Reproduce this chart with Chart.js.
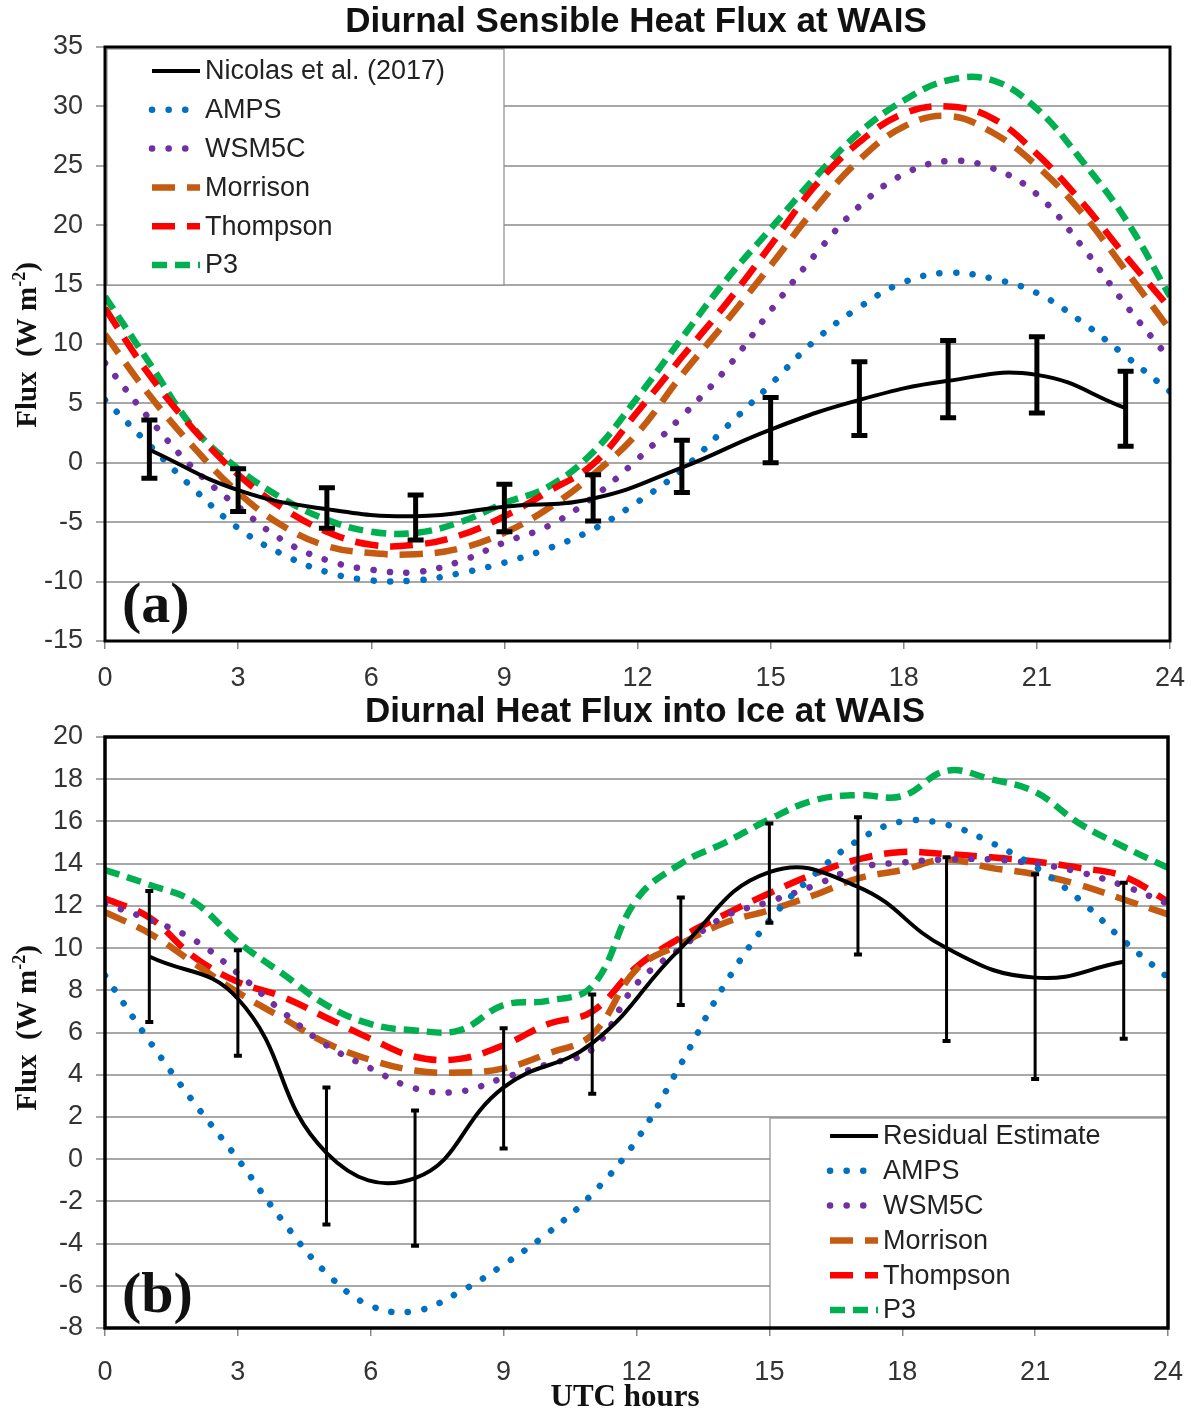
<!DOCTYPE html>
<html lang="en">
  <head>
    <meta charset="UTF-8" />
    <title>Diurnal Heat Flux at WAIS</title>
    <script src="https://cdn.jsdelivr.net/npm/chart.js@4.4.0/dist/chart.umd.min.js"></script>
    <style>
      body {
        margin: 0;
        background-color: #fff;
      }
      .panel {
        position: absolute;
        left: 0;
      }
      #panelA {
        top: 0;
      }
      #panelB {
        top: 690px;
      }
    </style>
  </head>
  <body>
    <canvas id="panelA" class="panel" width="1191" height="700"></canvas>
    <canvas id="panelB" class="panel" width="1191" height="726"></canvas>

    <script>
      // x values
      const hours = [0, 1, 2, 3, 4, 5, 6, 7, 8, 9, 10, 11, 12, 13, 14, 15, 16, 17, 18, 19, 20, 21, 22, 23, 24];
      const obsHours = [1, 3, 5, 7, 9, 11, 13, 15, 17, 19, 21, 23];
      const xTicks = [0, 3, 6, 9, 12, 15, 18, 21, 24];

      // (a) sensible heat flux
      const shfNicolas = [1.1, -2.3, -3.9, -4.5, -3.7, -3.0, -0.4, 2.8, 5.3, 6.9, 7.4, 4.6];
      const shfNicolasLow = [-1.3, -4.1, -5.5, -6.5, -5.8, -4.9, -2.5, 0.0, 2.3, 3.8, 4.2, 1.4];
      const shfNicolasHigh = [3.6, -0.5, -2.1, -2.7, -1.8, -1.0, 1.9, 5.5, 8.5, 10.3, 10.6, 7.7];
      const shfAMPS = [5.3, 1.5, -2.2, -5.5, -7.7, -9.2, -9.9, -9.9, -9.3, -8.4, -7.2, -5.6, -3.3, -0.6, 3.0, 6.6, 10.3, 13.1, 15.2, 16.0, 15.5, 14.3, 11.9, 9.0, 6.0];
      const shfWSM5C = [8.4, 3.7, -0.5, -3.7, -6.5, -8.2, -9.0, -9.2, -8.3, -6.7, -5.3, -2.9, 0.3, 3.9, 7.9, 12.8, 17.5, 21.6, 24.3, 25.4, 24.8, 22.6, 18.3, 13.3, 8.7];
      const shfMorrison = [10.8, 5.7, 1.3, -2.5, -5.3, -7.0, -7.6, -7.7, -7.2, -5.9, -3.8, -1.0, 2.5, 7.4, 11.9, 16.6, 21.4, 25.5, 28.3, 29.2, 27.8, 25.0, 21.1, 16.2, 11.2];
      const shfThompson = [13.0, 7.4, 2.8, -1.0, -3.8, -5.8, -6.9, -6.9, -6.1, -4.5, -2.4, -0.1, 4.3, 8.9, 13.4, 18.3, 23.3, 27.0, 29.4, 30.0, 29.0, 26.0, 22.0, 17.4, 13.0];
      const shfP3 = [14.0, 8.4, 2.9, -0.5, -3.0, -4.8, -5.8, -5.9, -5.0, -3.4, -2.0, 0.9, 5.5, 10.5, 15.4, 19.7, 24.0, 27.8, 30.5, 32.2, 32.2, 29.8, 25.5, 20.5, 14.0];

      // (b) heat flux into ice
      const iceResidual = [9.6, 7.6, 0.3, -0.9, 3.4, 5.5, 10.0, 13.6, 12.9, 10.0, 8.6, 9.35];
      const iceResidualLow = [6.5, 4.9, -3.1, -4.1, 0.5, 3.1, 7.3, 11.2, 9.7, 5.6, 3.8, 5.7];
      const iceResidualHigh = [12.7, 9.9, 3.4, 2.3, 6.2, 7.8, 12.4, 15.9, 16.2, 14.3, 13.5, 13.1];
      const iceAMPS = [8.7, 5.6, 2.7, 0.0, -2.9, -5.4, -6.95, -7.2, -6.3, -5.0, -3.5, -1.65, 0.9, 4.5, 8.3, 11.3, 13.45, 15.1, 16.0, 15.85, 15.0, 13.85, 12.3, 10.35, 8.6];
      const iceWSM5C = [12.1, 11.35, 10.4, 8.8, 7.0, 5.4, 4.3, 3.35, 3.2, 3.85, 4.5, 5.2, 8.3, 10.0, 11.5, 12.2, 12.95, 13.8, 14.05, 14.2, 14.2, 14.0, 13.6, 12.95, 12.1];
      const iceMorrison = [11.7, 10.7, 9.3, 7.9, 6.7, 5.5, 4.7, 4.2, 4.1, 4.3, 5.0, 5.9, 9.0, 10.2, 11.2, 11.8, 12.5, 13.3, 13.7, 14.2, 13.8, 13.5, 13.0, 12.3, 11.6];
      const iceThompson = [12.35, 11.45, 9.6, 8.4, 7.7, 6.7, 5.7, 4.85, 4.75, 5.4, 6.4, 7.0, 9.1, 10.5, 11.6, 12.6, 13.5, 14.2, 14.55, 14.45, 14.3, 14.1, 13.8, 13.4, 12.2];
      const iceP3 = [13.7, 13.0, 12.2, 10.3, 8.8, 7.3, 6.4, 6.1, 6.1, 7.3, 7.5, 8.2, 12.3, 14.0, 15.0, 16.1, 17.0, 17.25, 17.2, 18.4, 18.0, 17.4, 15.9, 14.8, 13.8];

      const SANS = "'Liberation Sans', Arial, sans-serif";
      const SERIF = "'Liberation Serif', 'Times New Roman', serif";

      function xy(xs, ys) {
        return ys.map((v, i) => ({ x: xs[i], y: v }));
      }

      // line styles shared by both panels
      function series(obsLabel, obs, amps, wsm, mor, tho, p3) {
        return [
          { label: obsLabel, data: xy(obsHours, obs), borderColor: "#000", borderWidth: 4, tension: 0.45 },
          { label: "AMPS", data: xy(hours, amps), borderColor: "#0070C0", borderWidth: 6.5, borderDash: [0.1, 16.5], borderCapStyle: "round", tension: 0.4 },
          { label: "WSM5C", data: xy(hours, wsm), borderColor: "#7030A0", borderWidth: 6.5, borderDash: [0.1, 16.5], borderCapStyle: "round", tension: 0.4 },
          { label: "Morrison", data: xy(hours, mor), borderColor: "#C55A11", borderWidth: 6.5, borderDash: [23, 12], tension: 0.4 },
          { label: "Thompson", data: xy(hours, tho), borderColor: "#FF0000", borderWidth: 6.5, borderDash: [23, 12], tension: 0.4 },
          { label: "P3", data: xy(hours, p3), borderColor: "#00B050", borderWidth: 6.5, borderDash: [15, 8], tension: 0.4 },
        ];
      }

      // error bars, frame, legend box and texts
      const decor = {
        id: "decor",
        afterDraw(chart, args, o) {
          const ctx = chart.ctx;
          const a = chart.chartArea;
          const xs = chart.scales.x;
          const ys = chart.scales.y;
          ctx.save();

          // error bars
          ctx.strokeStyle = "#000";
          ctx.setLineDash([]);
          obsHours.forEach((h, i) => {
            const px = xs.getPixelForValue(h);
            const y0 = ys.getPixelForValue(o.low[i]);
            const y1 = ys.getPixelForValue(o.high[i]);
            ctx.lineWidth = o.barWidth;
            ctx.beginPath();
            ctx.moveTo(px, y0);
            ctx.lineTo(px, y1);
            ctx.stroke();
            ctx.lineWidth = o.capThick;
            ctx.beginPath();
            ctx.moveTo(px - o.capHalf, y0);
            ctx.lineTo(px + o.capHalf, y0);
            ctx.moveTo(px - o.capHalf, y1);
            ctx.lineTo(px + o.capHalf, y1);
            ctx.stroke();
          });

          // legend box
          const L = o.legend;
          ctx.fillStyle = "#fff";
          ctx.fillRect(L.x, L.y, L.w, L.h);
          ctx.strokeStyle = "#8c8c8c";
          ctx.lineWidth = 1.2;
          ctx.strokeRect(L.x, L.y, L.w, L.h);
          chart.data.datasets.forEach((ds, i) => {
            const ry = L.row0 + i * L.rowGap;
            ctx.save();
            ctx.strokeStyle = ds.borderColor;
            ctx.lineWidth = ds.borderWidth;
            ctx.lineCap = ds.borderCapStyle || "butt";
            ctx.setLineDash(ds.borderDash || []);
            ctx.beginPath();
            ctx.moveTo(L.sx0, ry);
            ctx.lineTo(L.sx1, ry);
            ctx.stroke();
            ctx.restore();
            ctx.fillStyle = "#222";
            ctx.font = "27px " + SANS;
            ctx.textAlign = "left";
            ctx.textBaseline = "middle";
            ctx.fillText(ds.label, L.tx, ry + 1);
          });

          // frame
          ctx.strokeStyle = "#000";
          ctx.lineWidth = o.frame;
          ctx.strokeRect(a.left, a.top, a.right - a.left, a.bottom - a.top);

          // title
          ctx.fillStyle = "#111";
          ctx.font = "bold 35px " + SANS;
          ctx.textAlign = "center";
          ctx.textBaseline = "middle";
          ctx.fillText(o.title, o.titleX, 22);

          // panel label
          ctx.font = "bold 58px " + SERIF;
          ctx.textAlign = "left";
          ctx.textBaseline = "alphabetic";
          ctx.fillText(o.panel, 122, o.panelY);

          // y axis title with superscript
          ctx.save();
          ctx.translate(36, o.yTitleY);
          ctx.rotate(-Math.PI / 2);
          const big = "bold 29px " + SERIF;
          const small = "bold 18px " + SERIF;
          ctx.font = big;
          const w1 = ctx.measureText("Flux  (W m").width;
          const w3 = ctx.measureText(")").width;
          ctx.font = small;
          const w2 = ctx.measureText("-2").width;
          let x0 = -(w1 + w2 + w3) / 2;
          ctx.textAlign = "left";
          ctx.font = big;
          ctx.fillText("Flux  (W m", x0, 0);
          ctx.font = small;
          ctx.fillText("-2", x0 + w1, -11);
          ctx.font = big;
          ctx.fillText(")", x0 + w1 + w2, 0);
          ctx.restore();

          // x axis title
          if (o.xTitle) {
            ctx.font = "bold 31px " + SERIF;
            ctx.textAlign = "center";
            ctx.textBaseline = "middle";
            ctx.fillText(o.xTitle, 625, o.xTitleY);
          }
          ctx.restore();
        },
      };

      function panelConfig(p) {
        return {
          type: "line",
          data: { datasets: p.datasets },
          plugins: [decor],
          options: {
            responsive: false,
            animation: false,
            devicePixelRatio: 1,
            layout: { padding: { top: 47, right: p.right, left: 0, bottom: 0 } },
            elements: { point: { radius: 0 } },
            plugins: {
              legend: { display: false },
              tooltip: { enabled: false },
              decor: p.decor,
            },
            scales: {
              x: {
                type: "linear",
                min: 0,
                max: 24,
                afterFit: (s) => {
                  s.height = p.xAxisH;
                  s.paddingLeft = 0;
                  s.paddingRight = 0;
                },
                afterBuildTicks: (s) => {
                  s.ticks = xTicks.map((v) => ({ value: v }));
                },
                ticks: { font: { size: 27, family: SANS }, color: "#333", padding: p.xPad, maxRotation: 0 },
                grid: { drawOnChartArea: false, tickLength: 8, tickColor: "#888", lineWidth: 1.5 },
                border: { display: false },
              },
              y: {
                min: p.yMin,
                max: p.yMax,
                afterFit: (s) => {
                  s.width = 105;
                  s.paddingTop = 0;
                  s.paddingBottom = 0;
                },
                ticks: { stepSize: p.yStep, font: { size: 27, family: SANS }, color: "#333", padding: 13 },
                grid: { color: "#a8a8a8", lineWidth: 2, tickLength: 9, tickColor: "#a8a8a8" },
                border: { display: false },
              },
            },
          },
        };
      }

      const chartA = new Chart(
        document.getElementById("panelA"),
        panelConfig({
          datasets: series("Nicolas et al. (2017)", shfNicolas, shfAMPS, shfWSM5C, shfMorrison, shfThompson, shfP3),
          right: 21,
          xAxisH: 59,
          xPad: 13,
          yMin: -15,
          yMax: 35,
          yStep: 5,
          decor: {
            low: shfNicolasLow,
            high: shfNicolasHigh,
            barWidth: 5,
            capThick: 5,
            capHalf: 8,
            frame: 3,
            legend: { x: 107, y: 49, w: 397, h: 236, row0: 71, rowGap: 38.8, sx0: 152, sx1: 200, tx: 205 },
            title: "Diurnal Sensible Heat Flux at WAIS",
            titleX: 636,
            panel: "(a)",
            panelY: 622,
            yTitleY: 345,
          },
        })
      );

      const chartB = new Chart(
        document.getElementById("panelB"),
        panelConfig({
          datasets: series("Residual Estimate", iceResidual, iceAMPS, iceWSM5C, iceMorrison, iceThompson, iceP3),
          right: 23,
          xAxisH: 88,
          xPad: 20,
          yMin: -8,
          yMax: 20,
          yStep: 2,
          decor: {
            low: iceResidualLow,
            high: iceResidualHigh,
            barWidth: 3,
            capThick: 4,
            capHalf: 4,
            frame: 3.5,
            legend: { x: 770, y: 428, w: 398, h: 210, row0: 446, rowGap: 34.8, sx0: 830, sx1: 878, tx: 883 },
            title: "Diurnal Heat Flux into Ice at WAIS",
            titleX: 645,
            panel: "(b)",
            panelY: 622,
            yTitleY: 338,
            xTitle: "UTC hours",
            xTitleY: 708,
          },
        })
      );
    </script>
  </body>
</html>
